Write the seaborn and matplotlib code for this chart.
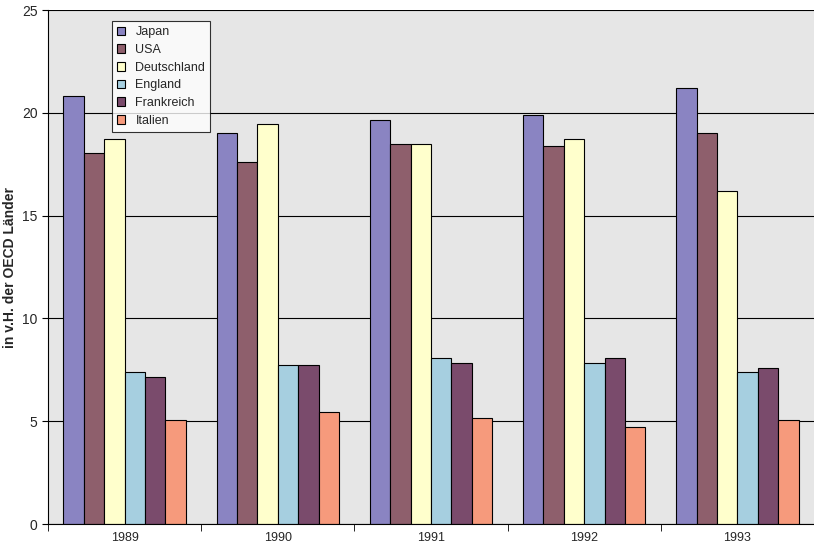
import matplotlib
matplotlib.use('Agg')
import matplotlib.pyplot as plt
import numpy as np
import pandas as pd
import seaborn as sns

years = ['1989', '1990', '1991', '1992', '1993']
countries = ['Japan', 'USA', 'Deutschland', 'England', 'Frankreich', 'Italien']
japan       = [20.8, 19.0, 19.65, 19.9, 21.2]
usa         = [18.05, 17.6, 18.5, 18.4, 19.0]
deutschland = [18.75, 19.45, 18.5, 18.75, 16.2]
england     = [7.4, 7.75, 8.07, 7.85, 7.4]
frankreich  = [7.15, 7.75, 7.85, 8.07, 7.6]
italien     = [5.06, 5.45, 5.15, 4.72, 5.06]

colors = ['#8a84c2', '#8e5f6c', '#ffffcc', '#a6cfe0', '#7a4b6c', '#f69a7c']

series = [japan, usa, deutschland, england, frankreich, italien]
df = pd.DataFrame([(y, c, v[i]) for c, v in zip(countries, series)
                   for i, y in enumerate(years)], columns=['Jahr', 'Land', 'Wert'])

sns.set_style('white')
plt.rcParams['font.family'] = ['Liberation Sans', 'DejaVu Sans']

fig = plt.figure(figsize=(8.14, 5.52), dpi=100)
ax = fig.add_axes([48 / 814, 28 / 552, 766 / 814, 514 / 552])
sns.barplot(data=df, x='Jahr', y='Wert', hue='Land', palette=colors, saturation=1,
            width=0.8, edgecolor='black', linewidth=0.8, ax=ax)
ax.set_facecolor('#e6e6e6')
ax.set_ylim(0, 25)
ax.set_xlim(-0.5, 4.5)
ax.set_yticks([0, 5, 10, 15, 20, 25])
ax.yaxis.grid(True, color='black', linewidth=0.8)
ax.set_axisbelow(True)
ax.set_xticks(np.arange(-0.5, 5, 1), minor=True)
ax.tick_params(axis='x', which='major', length=0, labelsize=9, pad=6)
ax.tick_params(axis='x', which='minor', length=5, direction='out', color='black', bottom=True)
ax.tick_params(axis='y', length=4, direction='out', color='black', labelsize=10, left=True)
for s in ['top', 'right']:
    ax.spines[s].set_visible(False)
for s in ['left', 'bottom']:
    ax.spines[s].set_color('black')
ax.set_xlabel('')
ax.set_ylabel('in v.H. der OECD Länder', fontsize=10, fontweight='bold')
ax.yaxis.set_label_coords(-0.04, 0.5)
leg = ax.legend(loc='upper left', bbox_to_anchor=(0.075, 0.99), fontsize=9,
                frameon=True, fancybox=False, edgecolor='black', facecolor='white',
                handlelength=0.7, handleheight=0.7, labelspacing=0.45, borderpad=0.4)
leg.get_frame().set_linewidth(0.8)
fig.savefig('out.png', dpi=100)
